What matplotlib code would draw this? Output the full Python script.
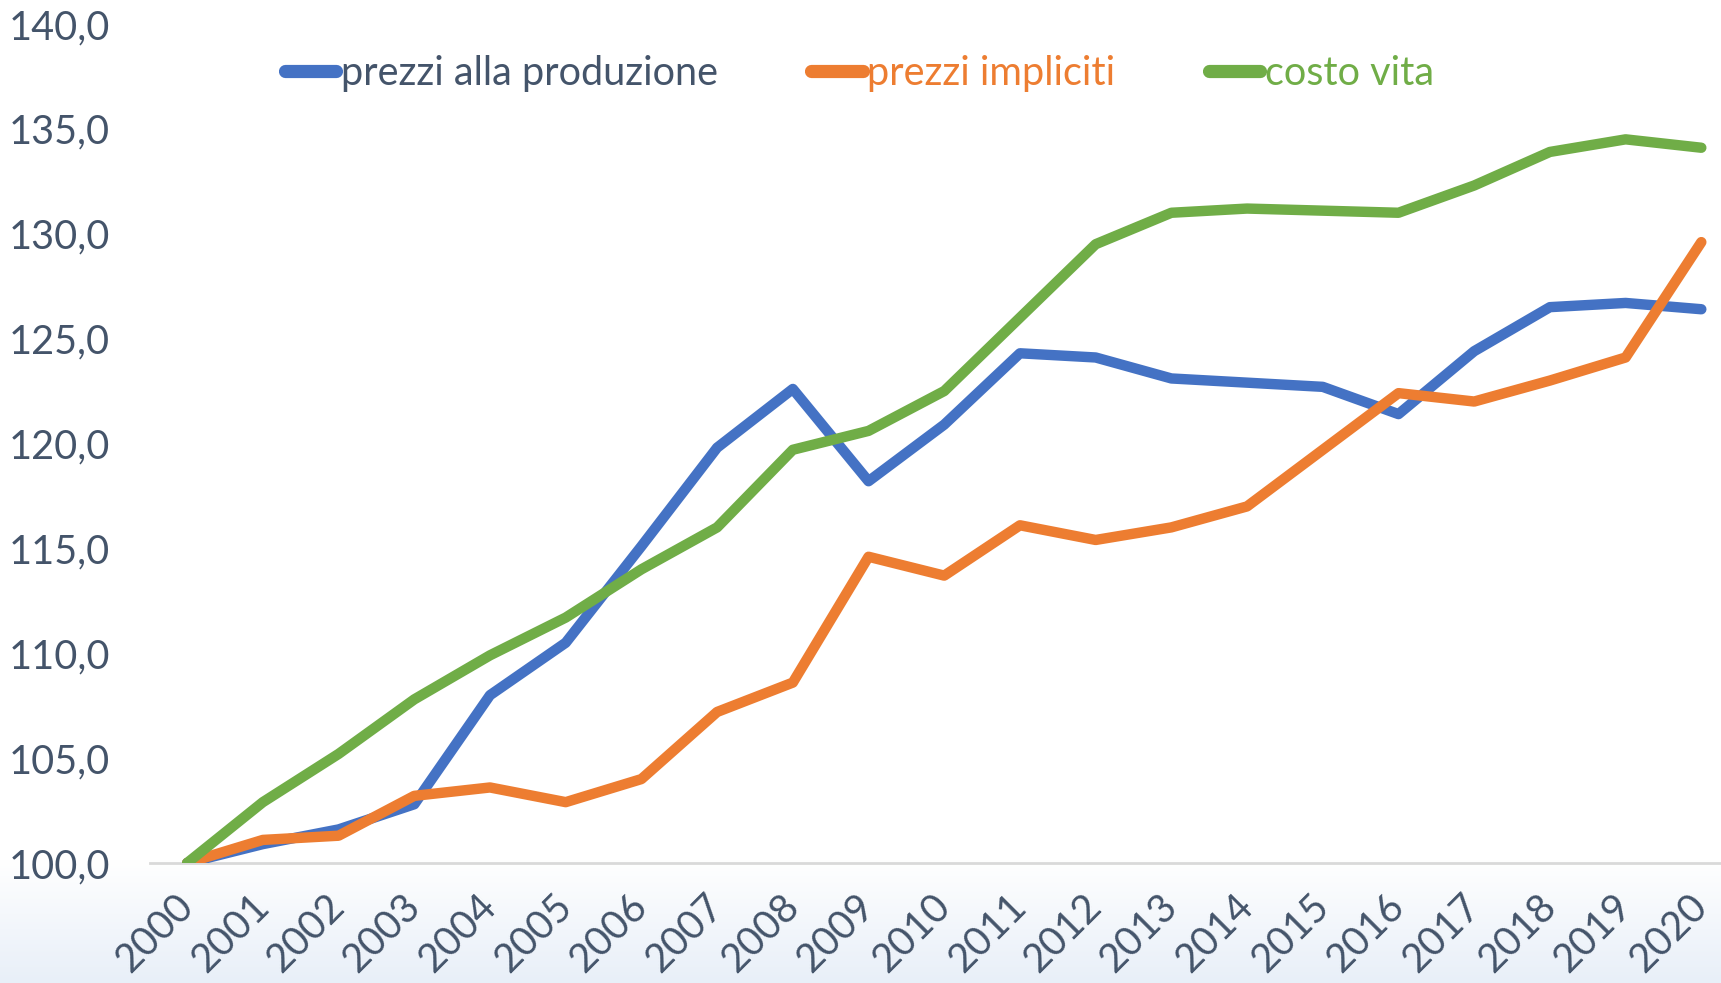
import numpy as np
import matplotlib.pyplot as plt
from matplotlib.colors import LinearSegmentedColormap

# Data
anni = [str(a) for a in range(2000, 2021)]
prezzi_produzione = [100.0, 100.9, 101.6, 102.8, 108.0, 110.5, 115.1, 119.8, 122.6, 118.2,
                     120.9, 124.3, 124.1, 123.1, 122.9, 122.7, 121.4, 124.4, 126.5, 126.7, 126.4]
prezzi_impliciti = [100.0, 101.1, 101.3, 103.2, 103.6, 102.9, 104.0, 107.2, 108.6, 114.6,
                    113.7, 116.1, 115.4, 116.0, 117.0, 119.7, 122.4, 122.0, 123.0, 124.1, 129.6]
costo_vita = [100.0, 102.9, 105.2, 107.8, 109.9, 111.7, 114.0, 116.0, 119.7, 120.6,
              122.5, 126.0, 129.5, 131.0, 131.2, 131.1, 131.0, 132.3, 133.9, 134.5, 134.1]

blu = "#4472c4"
arancio = "#ed7d31"
verde = "#70ad47"
testo = "#44546a"

plt.rcParams["font.family"] = ["Lato", "DejaVu Sans"]

fig = plt.figure(figsize=(17.21, 9.83), dpi=100)

# light gradient at the bottom of the figure
bg = fig.add_axes([0, 0, 1, 1], zorder=-10)
grad = np.linspace(0, 1, 256).reshape(-1, 1)
cmap = LinearSegmentedColormap.from_list("bg", ["#e8eff8", "#ffffff"])
bg.imshow(grad, aspect="auto", cmap=cmap, extent=[0, 1, 0, 0.125], origin="lower")
bg.set_xlim(0, 1)
bg.set_ylim(0, 1)
bg.axis("off")

ax = fig.add_axes([0.0872, 0.1221, 0.9128, 0.8535])
ax.patch.set_alpha(0)

x = np.arange(len(anni))
ax.plot(x, prezzi_produzione, color=blu, lw=7.5, solid_capstyle="round", label="prezzi alla produzione")
ax.plot(x, prezzi_impliciti, color=arancio, lw=7.5, solid_capstyle="round", label="prezzi impliciti")
ax.plot(x, costo_vita, color=verde, lw=7.5, solid_capstyle="round", label="costo vita")

ax.set_xlim(-0.49, 20.26)
ax.set_ylim(100, 140)
ax.set_yticks(np.arange(100, 141, 5))
ax.set_yticklabels([f"{v:.1f}".replace(".", ",") for v in np.arange(100, 141, 5)])
ax.set_xticks(x)
ax.set_xticklabels(anni, rotation=45, ha="right", va="center", rotation_mode="anchor")

ax.tick_params(axis="both", length=0, labelsize=28.5, colors=testo)
ax.tick_params(axis="y", pad=29)
ax.tick_params(axis="x", pad=27)

for s in ["top", "right", "left"]:
    ax.spines[s].set_visible(False)
ax.spines["bottom"].set_color("#d9d9d9")
ax.spines["bottom"].set_linewidth(2)
ax.spines["bottom"].set_zorder(0)

h, l = ax.get_legend_handles_labels()
leg = fig.legend(h, l, loc="center left", bbox_to_anchor=(0.1656, 0.925), ncol=3, frameon=False,
                 fontsize=28.5, borderpad=0, borderaxespad=0, handlelength=1.3,
                 handletextpad=0.12, columnspacing=2.35)
for t, c in zip(leg.get_texts(), [testo, arancio, verde]):
    t.set_color(c)
for hl in leg.get_lines():
    hl.set_linewidth(9.5)
    hl.set_solid_capstyle("round")

fig.savefig("out.png", dpi=100)
